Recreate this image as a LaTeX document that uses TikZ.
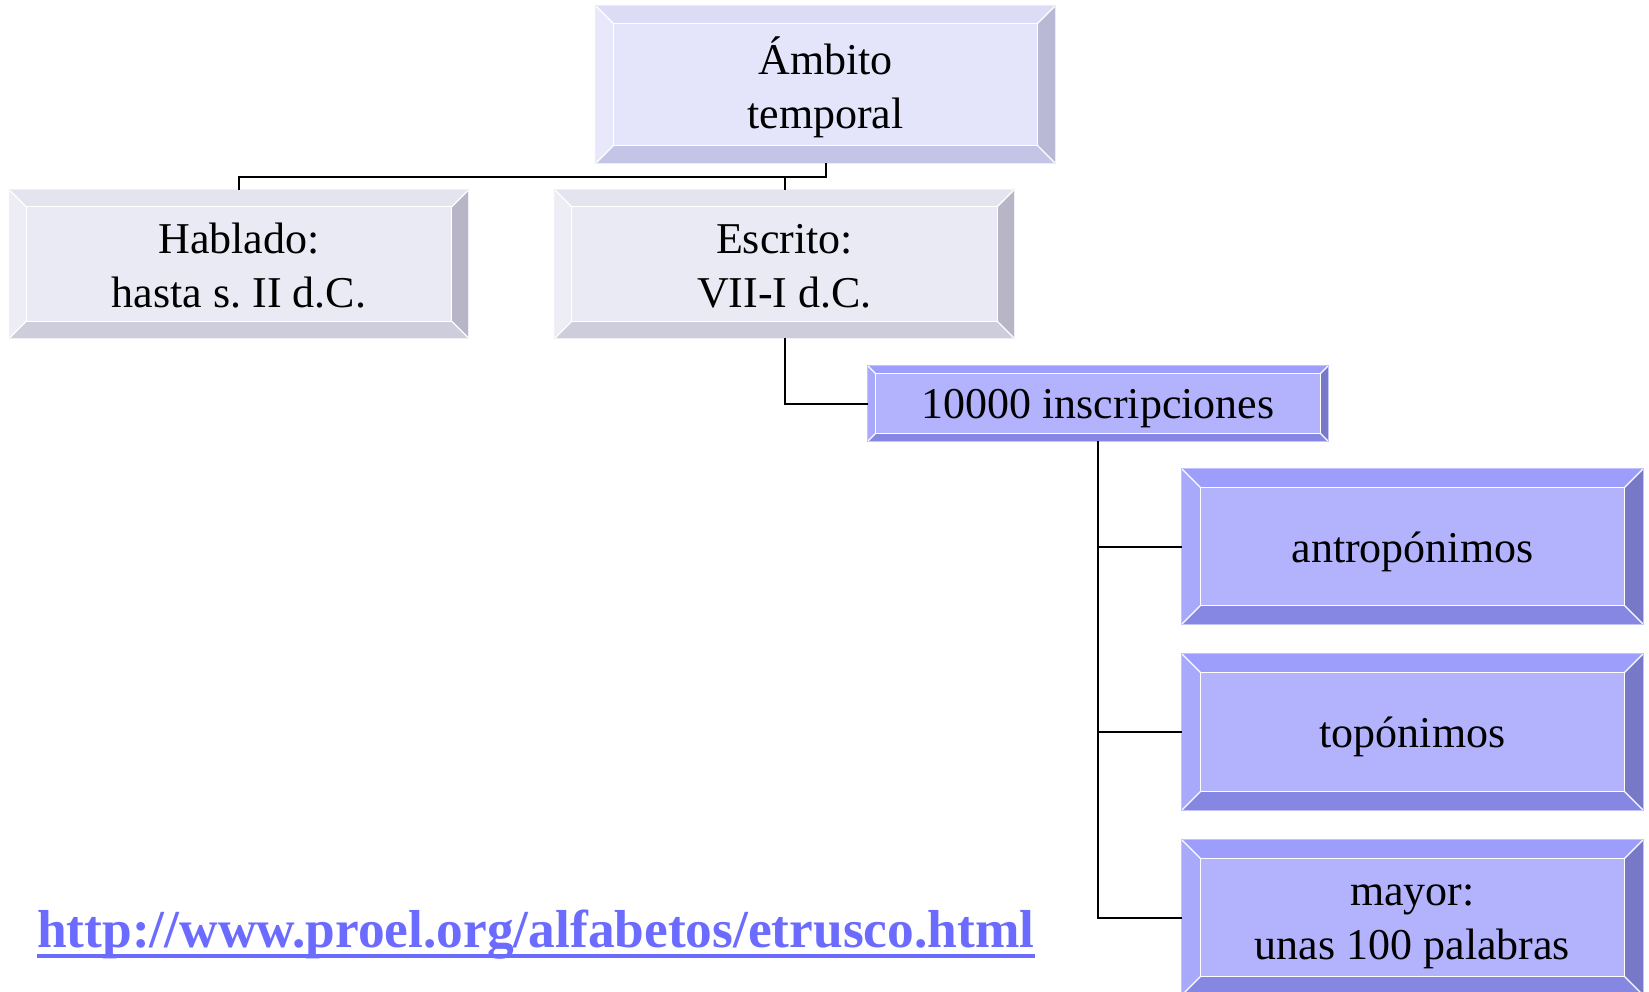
\documentclass[tikz,border=0pt]{standalone}
\usepackage{fontspec}
\setmainfont{Liberation Serif}
\usetikzlibrary{calc}
\frenchspacing
\definecolor{lvface}{HTML}{E4E4FB}
\definecolor{lvtop}{HTML}{DCDCF6}
\definecolor{lvlft}{HTML}{E8E8FA}
\definecolor{lvbot}{HTML}{C4C4E6}
\definecolor{lvrgt}{HTML}{B9B9D6}
\definecolor{grface}{HTML}{EAEAF4}
\definecolor{grtop}{HTML}{E4E4EF}
\definecolor{grlft}{HTML}{EDEDF5}
\definecolor{grbot}{HTML}{CDCDDC}
\definecolor{grrgt}{HTML}{B8B6C6}
\definecolor{blface}{HTML}{B3B3FD}
\definecolor{bltop}{HTML}{9D9DFB}
\definecolor{bllft}{HTML}{A9A9FC}
\definecolor{blbot}{HTML}{8686E3}
\definecolor{blrgt}{HTML}{7878C8}
\definecolor{urlc}{HTML}{6B6BFF}
\tikzset{
  bx/.style={minimum width=459pt, inner sep=0pt, align=center,
    font=\fontsize{44}{54}\selectfont, text=black},
  lbl/.style={inner sep=0pt, align=center,
    font=\fontsize{44}{54}\selectfont, text=black},
  conn/.style={draw=black, line width=2pt},
}
\newcommand\bevelbox[3]{%
  \fill[#3top] (#1.north west) -- (#1.north east) -- ($(#1.north east)+(-#2,-#2)$) -- ($(#1.north west)+(#2,-#2)$) -- cycle;
  \fill[#3bot] (#1.south west) -- (#1.south east) -- ($(#1.south east)+(-#2,#2)$) -- ($(#1.south west)+(#2,#2)$) -- cycle;
  \fill[#3lft] (#1.north west) -- (#1.south west) -- ($(#1.south west)+(#2,#2)$) -- ($(#1.north west)+(#2,-#2)$) -- cycle;
  \fill[#3rgt] (#1.north east) -- (#1.south east) -- ($(#1.south east)+(-#2,#2)$) -- ($(#1.north east)+(-#2,-#2)$) -- cycle;
  \draw[white, line width=1.2pt] ($(#1.north west)+(#2,-#2)$) rectangle ($(#1.south east)+(-#2,#2)$);
  \draw[white, line width=1.2pt] (#1.north west) -- ($(#1.north west)+(#2,-#2)$)
    (#1.north east) -- ($(#1.north east)+(-#2,-#2)$)
    (#1.south west) -- ($(#1.south west)+(#2,#2)$)
    (#1.south east) -- ($(#1.south east)+(-#2,#2)$);
  \draw[#3top!60!white, line width=1pt] (#1.north west) rectangle (#1.south east);
}
\begin{document}
\begin{tikzpicture}[x=1pt, y=1pt]
\useasboundingbox (0,0) rectangle (1649,-991);
\clip (0,0) rectangle (1649,-991);
\fill[white] (0,0) rectangle (1649,-991);

\node[bx, fill=lvface, minimum height=157pt] (amb) at (825.5,-84.5) {};
\node[bx, fill=grface, minimum height=148pt] (hab) at (239,-264) {};
\node[bx, fill=grface, minimum height=148pt] (esc) at (784.5,-264) {};
\node[bx, fill=blface, minimum width=460pt, minimum height=75pt] (ins) at (1098,-403.5) {};
\node[bx, fill=blface, minimum width=461pt, minimum height=155pt] (ant) at (1412.5,-546.5) {};
\node[bx, fill=blface, minimum width=461pt, minimum height=156pt] (top) at (1412.5,-732) {};
\node[bx, fill=blface, minimum width=461pt, minimum height=155pt] (may) at (1412.5,-917.5) {};

\bevelbox{amb}{18}{lv}
\bevelbox{hab}{17}{gr}
\bevelbox{esc}{17}{gr}
\bevelbox{ins}{8}{bl}
\bevelbox{ant}{19}{bl}
\bevelbox{top}{19}{bl}
\bevelbox{may}{19}{bl}

\node[lbl] (tamb) at ($(amb)+(0,-3)$) {Ámbito\\temporal};
\node[lbl] (thab) at ($(hab)+(0,-2)$) {Hablado:\\hasta s. II d.C.};
\node[lbl] (tesc) at ($(esc)+(0,-2)$) {Escrito:\\VII-I d.C.};
\node[lbl] (tins) at ($(ins)+(0,-5)$) {10000 inscripciones};
\node[lbl] (tant) at ($(ant)+(0,-5)$) {antropónimos};
\node[lbl] (ttop) at ($(top)+(0,-5)$) {topónimos};
\node[lbl] (tmay) at ($(may)+(0,-9)$) {mayor:\\unas 100 palabras};

\coordinate (j1) at ($(amb.south)+(0,-14)$);
\draw[conn] (amb.south) -- (j1) -| (hab.north);
\draw[conn] (j1) -| (esc.north);
\draw[conn] (esc.south) |- (ins.west);
\draw[conn] (ins.south) |- (ant.west);
\draw[conn] (ins.south) |- (top.west);
\draw[conn] (ins.south) |- (may.west);

\node[anchor=base west, inner sep=0pt, text=urlc, font=\fontsize{53.4}{60}\selectfont\bfseries] (url) at (37,-947) {http://www.proel.org/alfabetos/etrusco.html};
\draw[urlc, line width=4pt] ($(url.base west)+(0,-9)$) -- ($(url.base east)+(0,-9)$);
\end{tikzpicture}
\end{document}
